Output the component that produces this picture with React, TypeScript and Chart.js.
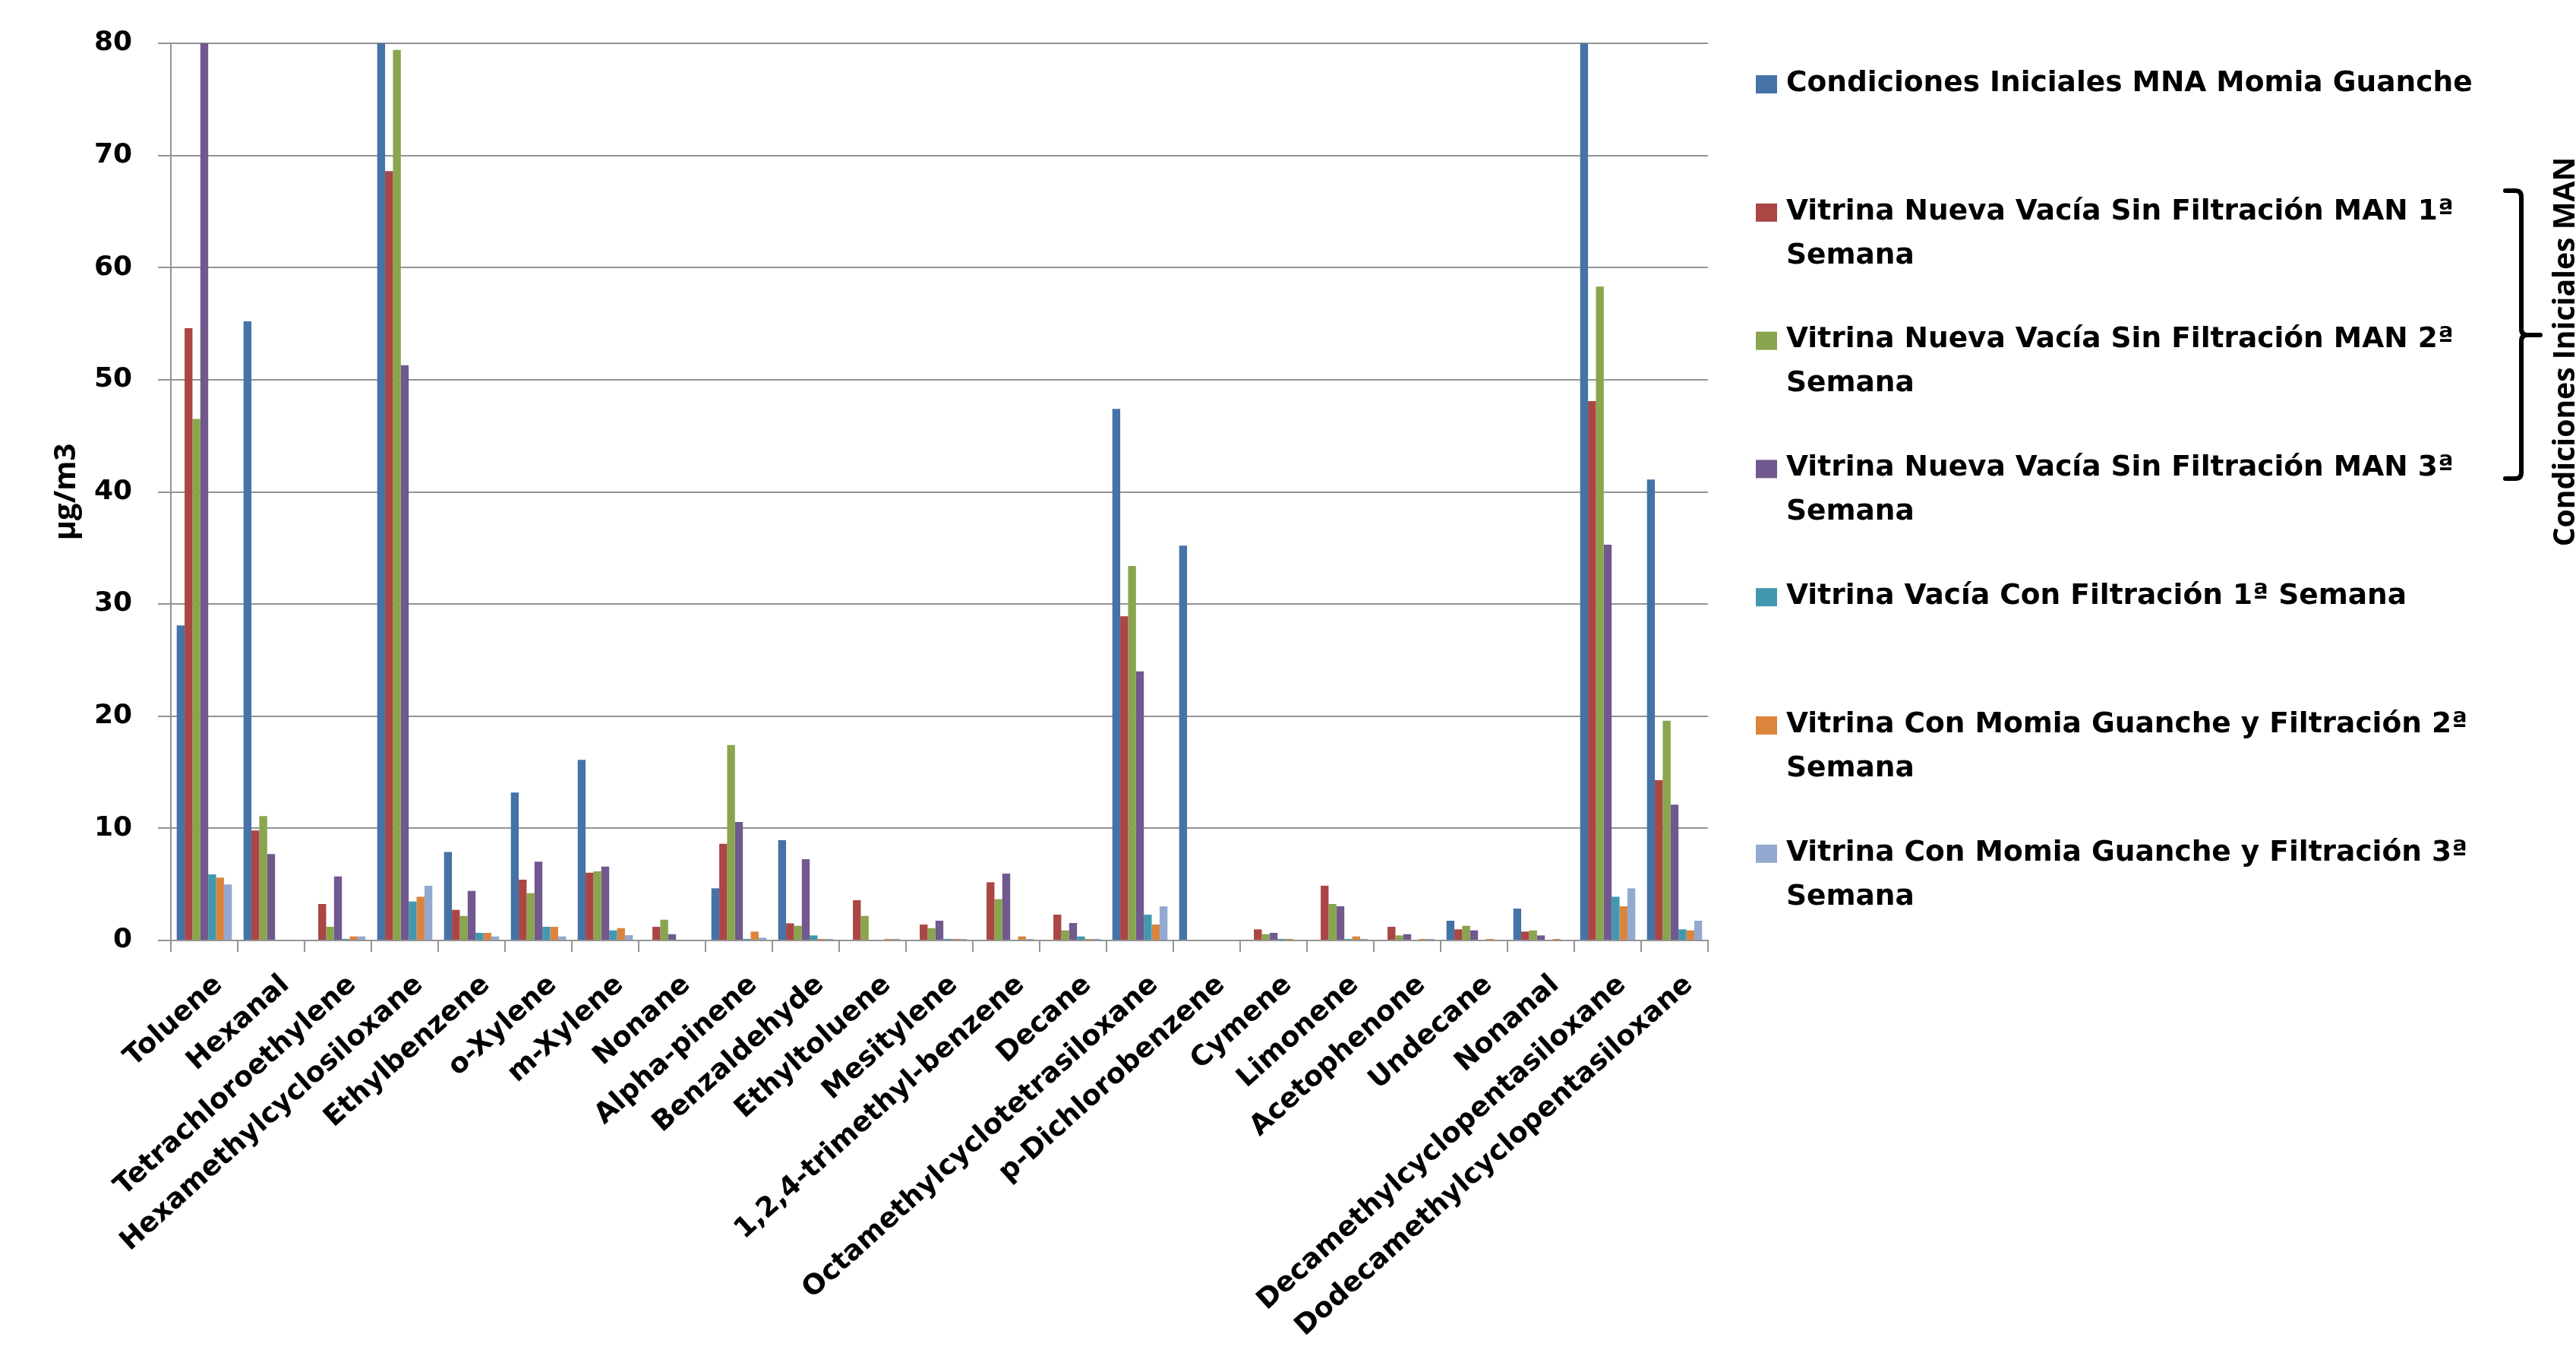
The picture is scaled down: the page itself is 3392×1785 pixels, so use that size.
import React, { useEffect, useRef } from "react";
import { Chart, registerables } from "chart.js";

Chart.register(...registerables);

// ---------- DATA ----------
const compounds = [
  "Toluene",
  "Hexanal",
  "Tetrachloroethylene",
  "Hexamethylcyclosiloxane",
  "Ethylbenzene",
  "o-Xylene",
  "m-Xylene",
  "Nonane",
  "Alpha-pinene",
  "Benzaldehyde",
  "Ethyltoluene",
  "Mesitylene",
  "1,2,4-trimethyl-benzene",
  "Decane",
  "Octamethylcyclotetrasiloxane",
  "p-Dichlorobenzene",
  "Cymene",
  "Limonene",
  "Acetophenone",
  "Undecane",
  "Nonanal",
  "Decamethylcyclopentasiloxane",
  "Dodecamethylcyclopentasiloxane",
];

const seriesNames = [
  "Condiciones Iniciales MNA Momia Guanche",
  "Vitrina Nueva Vacía Sin Filtración MAN 1ª Semana",
  "Vitrina Nueva Vacía Sin Filtración MAN 2ª Semana",
  "Vitrina Nueva Vacía Sin Filtración MAN 3ª Semana",
  "Vitrina Vacía Con Filtración 1ª Semana",
  "Vitrina Con Momia Guanche y Filtración 2ª Semana",
  "Vitrina Con Momia Guanche y Filtración 3ª Semana",
];

const seriesColors = ["#4572A7", "#AA4643", "#89A54E", "#71588F", "#4198AF", "#DB843D", "#93A9CF"];

// values in µg/m3 (bars above 80 are cut at the axis maximum in the original)
const condicionesIniciales = [28.1, 55.2, 0, 90, 7.9, 13.2, 16.1, 0, 4.65, 8.94, 0, 0, 0, 0, 47.4, 35.2, 0, 0, 0, 1.76, 2.84, 90, 41.1];
const sinFiltracion1 = [54.6, 9.8, 3.25, 68.6, 2.73, 5.42, 6.05, 1.22, 8.62, 1.53, 3.59, 1.42, 5.19, 2.3, 28.9, 0, 0.99, 4.88, 1.22, 0.99, 0.79, 48.1, 14.3];
const sinFiltracion2 = [46.5, 11.1, 1.22, 79.4, 2.19, 4.22, 6.16, 1.85, 17.43, 1.31, 2.19, 1.1, 3.68, 0.9, 33.4, 0, 0.56, 3.25, 0.45, 1.31, 0.9, 58.3, 19.6];
const sinFiltracion3 = [90, 7.7, 5.71, 51.3, 4.42, 7.02, 6.59, 0.56, 10.56, 7.25, 0, 1.76, 5.96, 1.56, 24.0, 0, 0.68, 3.05, 0.56, 0.9, 0.45, 35.3, 12.1];
const conFiltracion1 = [5.9, 0, 0.14, 3.48, 0.68, 1.22, 0.9, 0, 0.14, 0.45, 0, 0.14, 0, 0.36, 2.3, 0, 0.14, 0.14, 0, 0, 0, 3.9, 0.99];
const conMomia2 = [5.6, 0, 0.36, 3.9, 0.68, 1.22, 1.1, 0, 0.79, 0.14, 0.14, 0.14, 0.36, 0.14, 1.42, 0, 0.14, 0.36, 0.14, 0.14, 0.14, 3.05, 0.9];
const conMomia3 = [5.0, 0, 0.36, 4.88, 0.36, 0.36, 0.47, 0, 0.25, 0.14, 0.14, 0.14, 0.14, 0.14, 3.04, 0, 0, 0.14, 0.14, 0, 0, 4.65, 1.76];

const seriesValues = [
  condicionesIniciales,
  sinFiltracion1,
  sinFiltracion2,
  sinFiltracion3,
  conFiltracion1,
  conMomia2,
  conMomia3,
];

const yMin = 0;
const yMax = 80;
const yStep = 10;
const yAxisTitle = "µg/m3";
const bracketLabel = "Condiciones Iniciales MAN";

// ---------- LAYOUT / STYLE ----------
const W = 3392;
const H = 1785;
const PLOT_LEFT = 225;
const PLOT_RIGHT = 2249;
const PLOT_TOP = 57;
const PLOT_BOTTOM = 1238;
const GRID = "#949494";
const FONT = "DejaVu Sans";

function wrapText(ctx: CanvasRenderingContext2D, text: string, maxWidth: number): string[] {
  const words = text.split(" ");
  const lines: string[] = [];
  let cur = "";
  for (const w of words) {
    const test = cur ? cur + " " + w : w;
    if (ctx.measureText(test).width > maxWidth && cur) {
      lines.push(cur);
      cur = w;
    } else {
      cur = test;
    }
  }
  if (cur) lines.push(cur);
  return lines;
}

const sidePlugin = {
  id: "sideLegendAndBracket",
  afterDraw(chart: any) {
    const ctx: CanvasRenderingContext2D = chart.ctx;
    ctx.save();
    // legend
    ctx.font = `bold 37.5px "${FONT}"`;
    ctx.textBaseline = "middle";
    ctx.textAlign = "left";
    const top = 111;
    const step = 168.8;
    chart.data.datasets.forEach((ds: any, i: number) => {
      const cy = top + i * step;
      ctx.fillStyle = ds.backgroundColor;
      ctx.fillRect(2312, cy - 12, 28, 24);
      ctx.fillStyle = "#000";
      const lines = wrapText(ctx, ds.label, 970);
      lines.forEach((ln, j) => ctx.fillText(ln, 2352, cy - 1 + j * 58));
    });

    // bracket
    ctx.strokeStyle = "#000";
    ctx.lineWidth = 6;
    ctx.lineCap = "round";
    ctx.lineJoin = "round";
    const bx = 3320;
    const bl = 3299;
    const bt = 251;
    const bb = 630;
    const bm = 441;
    ctx.beginPath();
    ctx.moveTo(bl, bt);
    ctx.lineTo(bx - 8, bt);
    ctx.quadraticCurveTo(bx, bt, bx, bt + 8);
    ctx.lineTo(bx, bm - 8);
    ctx.quadraticCurveTo(bx, bm, bx + 8, bm);
    ctx.lineTo(3345, bm);
    ctx.moveTo(bx + 8, bm);
    ctx.quadraticCurveTo(bx, bm, bx, bm + 8);
    ctx.lineTo(bx, bb - 8);
    ctx.quadraticCurveTo(bx, bb, bx - 8, bb);
    ctx.lineTo(bl, bb);
    ctx.stroke();

    // rotated bracket label
    ctx.font = `bold 100px "Open Sans"`;
    const w100 = ctx.measureText(bracketLabel).width;
    const size = (100 * 513) / w100;
    ctx.font = `bold ${size}px "Open Sans"`;
    ctx.translate(3362 + 0.714 * size, 463);
    ctx.rotate(-Math.PI / 2);
    ctx.textAlign = "center";
    ctx.textBaseline = "alphabetic";
    ctx.fillStyle = "#000";
    ctx.fillText(bracketLabel, 0, 0);
    ctx.restore();
  },
};

export default function App() {
  const canvasRef = useRef<HTMLCanvasElement | null>(null);

  useEffect(() => {
    const canvas = canvasRef.current;
    if (!canvas) return;
    const chart = new Chart(canvas, {
      type: "bar",
      data: {
        labels: compounds,
        datasets: seriesValues.map((vals, i) => ({
          label: seriesNames[i],
          data: vals,
          backgroundColor: seriesColors[i],
          borderWidth: 0,
          categoryPercentage: 0.825,
          barPercentage: 1,
        })),
      },
      options: {
        responsive: false,
        animation: false,
        devicePixelRatio: 1,
        layout: {
          padding: { top: PLOT_TOP, right: W - PLOT_RIGHT, left: 0, bottom: 0 },
        },
        plugins: {
          legend: { display: false },
          tooltip: { enabled: false },
        },
        scales: {
          x: {
            grid: {
              offset: true,
              drawOnChartArea: false,
              drawTicks: true,
              tickLength: 15,
              color: GRID,
              lineWidth: 2,
            },
            border: { color: GRID, width: 2 },
            ticks: {
              autoSkip: false,
              minRotation: 42,
              maxRotation: 42,
              padding: 22,
              labelOffset: 19,
              color: "#000",
              font: { family: FONT, size: 36.5, weight: "bold" },
            },
            afterFit: (scale: any) => {
              scale.height = H - PLOT_BOTTOM;
            },
          },
          y: {
            min: yMin,
            max: yMax,
            ticks: {
              stepSize: yStep,
              padding: 34,
              color: "#000",
              font: { family: FONT, size: 36, weight: "bold" },
            },
            grid: { color: GRID, lineWidth: 2, tickLength: 17 },
            border: { color: GRID, width: 2 },
            title: {
              display: true,
              text: yAxisTitle,
              color: "#000",
              font: { family: "Open Sans", size: 40, weight: "bold" },
              padding: { top: 64, bottom: 0 },
            },
            afterFit: (scale: any) => {
              scale.width = PLOT_LEFT;
            },
          },
        },
      } as any,
      plugins: [sidePlugin],
    });
    return () => chart.destroy();
  }, []);

  return (
    <div style={{ position: "absolute", left: 0, top: 0, width: W, height: H, background: "#fff" }}>
      <canvas ref={canvasRef} width={W} height={H} style={{ display: "block", width: W, height: H }} />
    </div>
  );
}
